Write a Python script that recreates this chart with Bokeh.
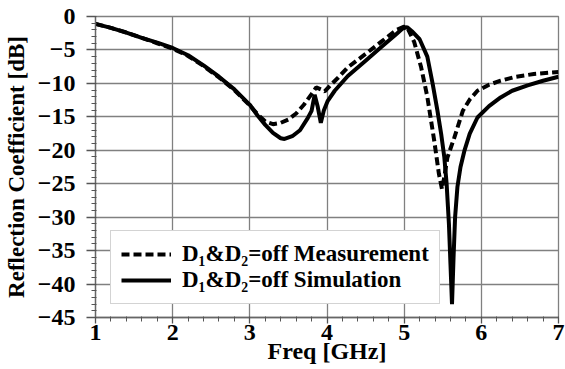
from bokeh.plotting import figure
from bokeh.models import Range1d, FixedTicker, Legend, LegendItem
from bokeh.embed import file_html
from bokeh.resources import INLINE

# Measurement (dashed)
meas_f = [1.0, 1.2, 1.4, 1.6, 1.8, 2.0, 2.2, 2.4, 2.6, 2.8, 3.0, 3.1, 3.2, 3.3, 3.4,
          3.5, 3.6, 3.7, 3.8, 3.86, 3.92, 3.97, 4.05, 4.14, 4.27, 4.5, 4.7, 4.9,
          5.0, 5.05, 5.13, 5.22, 5.30, 5.39, 5.45, 5.49, 5.52, 5.56, 5.65, 5.76,
          5.85, 5.95, 6.1, 6.25, 6.45, 6.68, 7.0]
meas_db = [-1.1, -1.7, -2.4, -3.2, -4.0, -4.8, -5.9, -7.4, -9.1, -11.0, -13.3, -14.6,
           -15.7, -16.1, -15.9, -15.4, -14.5, -13.2, -11.6, -10.6, -10.9, -11.2,
           -10.2, -9.2, -7.6, -5.6, -3.8, -2.0, -1.5, -1.9, -3.8, -7.6, -12.0,
           -18.6, -23.5, -25.8, -24.0, -21.1, -18.1, -14.1, -12.4, -11.1, -10.2,
           -9.6, -9.0, -8.6, -8.3]

# Simulation (solid)
sim_f = [1.0, 1.2, 1.4, 1.6, 1.8, 2.0, 2.2, 2.4, 2.6, 2.8, 3.0, 3.1, 3.2, 3.3, 3.4,
         3.45, 3.55, 3.65, 3.75, 3.8, 3.84, 3.88, 3.92, 3.96, 4.01, 4.1, 4.27, 4.5,
         4.7, 4.9, 4.98, 5.04, 5.1, 5.2, 5.3, 5.37, 5.43, 5.48, 5.52, 5.55, 5.58,
         5.6, 5.62, 5.64, 5.66, 5.69, 5.73, 5.78, 5.85, 5.95, 6.1, 6.25, 6.4, 6.6,
         6.8, 7.0]
sim_db = [-1.1, -1.7, -2.4, -3.2, -3.9, -4.7, -5.8, -7.3, -9.0, -10.9, -13.2, -14.8,
          -16.2, -17.4, -18.2, -18.3, -17.9, -17.0, -15.2, -14.1, -11.7, -13.5,
          -15.9, -14.0, -12.6, -11.1, -8.9, -6.6, -4.6, -2.6, -1.8, -1.6, -2.2,
          -3.4, -6.0, -10.1, -14.0, -17.6, -21.0, -25.0, -31.0, -37.0, -43.0,
          -36.0, -30.0, -25.5, -22.5, -20.1, -17.5, -15.1, -13.4, -12.1, -11.1,
          -10.3, -9.6, -9.0]

x_ticks = [1, 2, 3, 4, 5, 6, 7]
y_ticks = [0, -5, -10, -15, -20, -25, -30, -35, -40, -45]
labels = ["D\u2081&D\u2082=off Measurement", "D\u2081&D\u2082=off Simulation"]
x_title = "Freq [GHz]"
y_title = "Reflection Coefficient [dB]"

FONT = "Liberation Serif"
GRID = "#808080"

p = figure(width=565, height=369, output_backend="svg", toolbar_location=None,
           x_range=Range1d(1, 7), y_range=Range1d(-45, 0),
           min_border_left=93, min_border_right=7, min_border_top=16,
           min_border_bottom=52)
p.background_fill_color = "white"
p.border_fill_color = "white"
p.outline_line_color = GRID
p.outline_line_width = 1.3

r1 = p.line(meas_f, meas_db, line_color="black", line_width=4, line_dash="8 4")
r2 = p.line(sim_f, sim_db, line_color="black", line_width=4)

p.xaxis.ticker = FixedTicker(ticks=x_ticks, minor_ticks=[1 + 0.2 * i for i in range(31)])
p.yaxis.ticker = FixedTicker(ticks=y_ticks, minor_ticks=list(range(-45, 1)))

for ax in (p.xaxis[0], p.yaxis[0]):
    ax.axis_line_color = "#666666"
    ax.axis_line_width = 1.3
    ax.major_tick_line_color = "#555555"
    ax.minor_tick_line_color = "#555555"
    ax.major_tick_line_width = 1.3
    ax.minor_tick_line_width = 1
    ax.major_label_text_font = FONT
    ax.major_label_text_font_style = "bold"
    ax.major_label_text_font_size = "24px"
    ax.major_label_text_color = "black"
    ax.axis_label_text_font = FONT
    ax.axis_label_text_font_style = "bold"
    ax.axis_label_text_color = "black"

p.yaxis.major_tick_in = 0
p.yaxis.major_tick_out = 9
p.yaxis.minor_tick_in = 1
p.yaxis.minor_tick_out = 4
p.yaxis.major_label_standoff = 11
p.yaxis.axis_label = y_title
p.yaxis.axis_label_text_font_size = "23px"
p.yaxis.axis_label_standoff = 6

p.xaxis.major_tick_in = 0
p.xaxis.major_tick_out = 6
p.xaxis.minor_tick_in = 1
p.xaxis.minor_tick_out = 4
p.xaxis.major_label_standoff = 1
p.xaxis.axis_label = x_title
p.xaxis.axis_label_text_font_size = "24px"
p.xaxis.axis_label_standoff = -5

p.xgrid.ticker = FixedTicker(ticks=x_ticks)
p.ygrid.ticker = FixedTicker(ticks=y_ticks)
p.xgrid.grid_line_color = GRID
p.ygrid.grid_line_color = GRID
p.xgrid.grid_line_width = 1.3
p.ygrid.grid_line_width = 1.3

legend = Legend(items=[LegendItem(label=labels[0], renderers=[r1]),
                       LegendItem(label=labels[1], renderers=[r2])],
                location=(15, 13), orientation="vertical")
legend.label_text_font = FONT
legend.label_text_font_style = "bold"
legend.label_text_font_size = "23px"
legend.label_text_line_height = 0.9
legend.label_text_color = "black"
legend.glyph_width = 50
legend.glyph_height = 20
legend.label_height = 20
legend.label_standoff = 11
legend.spacing = -5
legend.padding = 10
legend.margin = 0
legend.border_line_color = "#a8a8a8"
legend.border_line_width = 1.3
legend.background_fill_color = "white"
legend.background_fill_alpha = 1
p.add_layout(legend, "center")

open("out.html", "w").write(file_html(p, INLINE))
